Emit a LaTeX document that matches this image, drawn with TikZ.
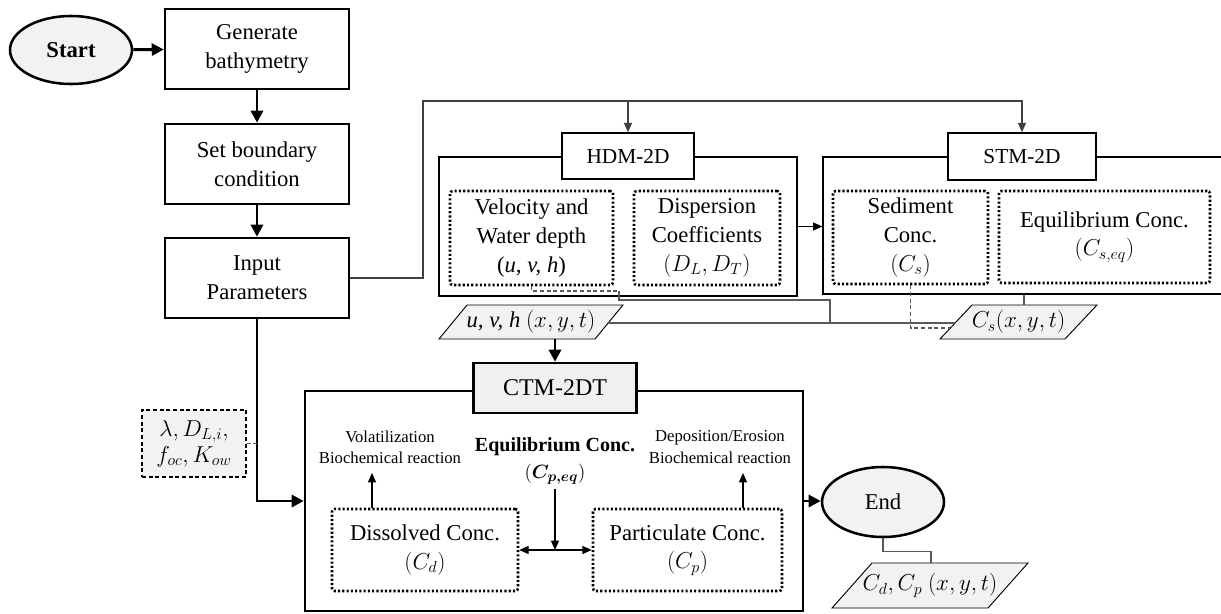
\documentclass[tikz,border=0pt]{standalone}
\usepackage{amsmath}
\usepackage{fontspec}
\setmainfont{Liberation Serif}
\usetikzlibrary{shapes.geometric,arrows.meta,calc}
\tikzset{
 sz/.style 2 args={minimum width=#1*0.75pt,minimum height=#2*0.75pt},
 big/.style={font=\fontsize{17}{21.5}\selectfont},
 flowbox/.style={draw,line width=1.9pt,inner sep=0pt,align=center,big},
 panel/.style={draw,line width=0.9pt,inner sep=0pt},
 titlebox/.style={draw,fill=white,line width=1.1pt,inner sep=0pt,align=center,font=\fontsize{16}{20}\selectfont},
 dotbox/.style={draw,line width=1.9pt,dash pattern=on 1.6pt off 1.6pt,rounded corners=2pt,inner sep=0pt,align=center,big},
 term/.style={ellipse,draw,line width=1.9pt,fill=gray!10,inner sep=0pt,big},
 para/.style={draw,line width=0.7pt,fill=gray!10},
 thickarrow/.style={line width=2.2pt,-{Triangle[length=9pt,width=9pt]}},
 thinarrow/.style={line width=0.9pt,-{Triangle[length=7pt,width=6pt]}},
 dblarrow/.style={line width=0.9pt,{Triangle[length=7pt,width=6pt]}-{Triangle[length=7pt,width=6pt]}},
 conn/.style={line width=1.1pt,draw=black!65},
 connarrow/.style={conn,-{Triangle[length=7pt,width=6pt]},draw=black!75},
 dconn/.style={conn,dash pattern=on 3pt off 2pt},
 note/.style={align=center,font=\fontsize{12.5}{16}\selectfont},
}
\begin{document}
\begin{tikzpicture}[x=0.75pt,y=-0.75pt]
\clip (0,0) rectangle (1221,614);
\fill[white] (0,0) rectangle (1221,614);
% left chain
\node[term,sz={122}{68}] (start) at (71,50) {\textbf{Start}};
\node[flowbox,sz={184}{80}] (gen) at (257,49) {Generate\\bathymetry};
\node[flowbox,sz={184}{80}] (setbc) at (257,164) {Set boundary\\condition};
\node[flowbox,sz={184}{80}] (input) at (257,278) {Input\\Parameters};
\draw[thickarrow] (start) -- (gen);
\draw[thickarrow] (gen) -- (setbc);
\draw[thickarrow] (setbc) -- (input);
% HDM
\node[panel,sz={358}{139}] (hdm) at (618,226.5) {};
\node[titlebox,sz={132}{46}] (hdmt) at (628,156) {HDM-2D};
\node[dotbox,sz={163}{94}] (vel) at (531.5,238) {Velocity and\\Water depth\\(\textit{u, v, h})};
\node[dotbox,sz={146}{94}] (disp) at (707,238) {Dispersion\\Coefficients\\$(D_L, D_T)$};
% STM
\node[panel,sz={417}{137}] (stm) at (1031.5,225.5) {};
\node[titlebox,sz={148}{47}] (stmt) at (1022,156.5) {STM-2D};
\node[dotbox,sz={155}{93}] (sed) at (910.5,237.5) {Sediment\\Conc.\\$(C_s)$};
\node[dotbox,sz={211}{92}] (eqs) at (1104.5,237) {Equilibrium Conc.\\$(C_{s,eq})$};
% input to models
\coordinate (top) at (423,101);
\draw[connarrow] (input.east) -| (top) -| (stmt.north);
\draw[connarrow] (hdmt.north |- top) -- (hdmt.north);
\draw[thinarrow] (hdm.east) -- (hdm.east -| stm.west);
% parallelograms
\draw[para] (467,305) -- (623,305) -- (595,339) -- (439,339) -- cycle;
\node[big] (uvh) at (531,322) {\textit{u, v, h} $(x, y, t)$};
\coordinate (uvhR) at (608,323);
\coordinate (uvhB) at (555,339);
\draw[para] (972,305) -- (1097,305) -- (1065,339) -- (940,339) -- cycle;
\node[big] (cs) at (1018.5,322) {$C_s(x, y, t)$};
\coordinate (csL) at (955,323);
\coordinate (csL2) at (950,328);
\coordinate (csT) at (1024,305);
% HDM / STM outputs
\coordinate (j1) at (619,291);
\draw[dconn] (vel.south) |- (j1);
\draw[conn] (j1) -- (619,300) -| (830,323);
\draw[conn] (uvhR) -- (csL);
\draw[dconn] (sed.south) |- (csL2);
\draw[conn] (csT |- stm.south) -- (csT);
% CTM
\node[flowbox,sz={498}{220}] (ctm) at (554,501) {};
\node[flowbox,fill=gray!12,sz={163}{50},font=\fontsize{18}{22}\selectfont] (ctmt) at (555,388) {CTM-2DT};
\draw[thickarrow] (uvhB) -- (ctmt.north);
\draw[thickarrow] (input.south) |- (ctm.west);
\node[draw,dash pattern=on 3pt off 2pt,line width=0.8pt,fill=gray!10,sz={104}{67},align=center,inner sep=0pt,big] (prm) at (194,443.5) {$\lambda, D_{L,i},$\\[-2pt]$f_{oc}, K_{ow}$};
\draw[dconn] (prm.east) -- (prm.east -| input.south);
\node[dotbox,sz={186}{82}] (dis) at (425,550) {Dissolved Conc.\\$(C_d)$};
\node[dotbox,sz={189}{82}] (par) at (687.5,550) {Particulate Conc.\\$(C_p)$};
\draw[dblarrow] (dis.east) -- (par.west);
\node[note] (vol) at (390,447) {Volatilization\\Biochemical reaction};
\node[note] (dep) at (720,447) {Deposition/Erosion\\Biochemical reaction};
\node[align=center,font=\fontsize{15}{20}\selectfont] (eqp) at (555,461) {\textbf{Equilibrium Conc.}\\$(\boldsymbol{C_{p,eq}})$};
\draw[thinarrow] (eqp.south) -- (eqp.south |- dis.east);
\coordinate (va) at (372,473);
\coordinate (vb) at (743,473);
\draw[thinarrow] (va |- dis.north) -- (va);
\draw[thinarrow] (vb |- par.north) -- (vb);
% End
\node[term,sz={122}{70}] (end) at (883,502) {End};
\draw[thickarrow] (ctm.east) -- (ctm.east -| end.west);
\coordinate (cdT) at (931,563);
\draw[para] (872,563) -- (1028,563) -- (988,608) -- (832,608) -- cycle;
\node[big] (cdcp) at (930,585.5) {$C_d, C_p\ (x, y, t)$};
\draw[conn] (end.south) -- ++(0,13) -| (cdT);
\end{tikzpicture}
\end{document}
